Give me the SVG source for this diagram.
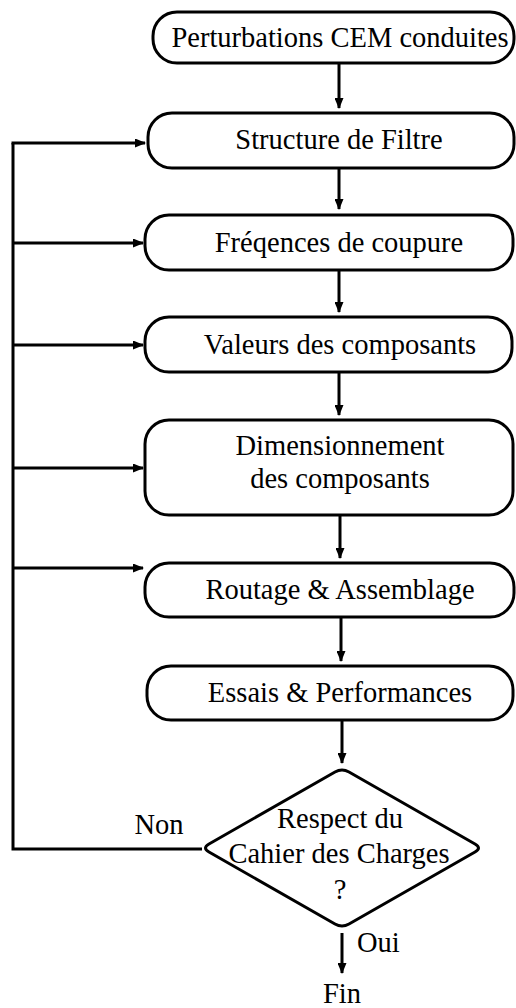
<svg xmlns="http://www.w3.org/2000/svg" width="516" height="1008" viewBox="0 0 516 1008">
<style>
.box{fill:#fff;stroke:#000;stroke-width:3}
.t{font-family:'Liberation Serif','Times New Roman',serif;font-size:28.5px;fill:#000;text-anchor:middle}
.c{fill:none;stroke:#000;stroke-width:3}
</style>
<defs>
<marker id="ah" markerUnits="userSpaceOnUse" markerWidth="11" markerHeight="9" refX="10" refY="4.5" orient="auto">
<path d="M0,0 L11,4.5 L0,9 z" fill="#000"/>
</marker>
</defs>
<rect width="516" height="1008" fill="#fff"/>
<g id="connectors">
<line class="c" x1="339" y1="63" x2="339" y2="108" marker-end="url(#ah)"/>
<line class="c" x1="339" y1="168" x2="339" y2="209" marker-end="url(#ah)"/>
<line class="c" x1="339" y1="270" x2="339" y2="312" marker-end="url(#ah)"/>
<line class="c" x1="339" y1="372" x2="339" y2="415" marker-end="url(#ah)"/>
<line class="c" x1="340" y1="515" x2="340" y2="558" marker-end="url(#ah)"/>
<line class="c" x1="341" y1="617" x2="341" y2="661" marker-end="url(#ah)"/>
<line class="c" x1="342" y1="720" x2="342" y2="763" marker-end="url(#ah)"/>
<line class="c" x1="342" y1="933" x2="342" y2="973" marker-end="url(#ah)"/>
<polyline class="c" points="202,849 13,849 13,143"/>
<line class="c" x1="11.5" y1="143" x2="145" y2="143" marker-end="url(#ah)"/>
<line class="c" x1="13" y1="243" x2="143" y2="243" marker-end="url(#ah)"/>
<line class="c" x1="13" y1="345" x2="143" y2="345" marker-end="url(#ah)"/>
<line class="c" x1="13" y1="468" x2="143" y2="468" marker-end="url(#ah)"/>
<line class="c" x1="13" y1="568" x2="143" y2="568" marker-end="url(#ah)"/>
<text class="t" x="159" y="834">Non</text>
<text class="t" x="357" y="952" style="text-anchor:start">Oui</text>
</g>
<g id="n1"><rect class="box" x="153" y="12" width="361" height="51" rx="24"/><text class="t" x="340" y="47">Perturbations CEM conduites</text></g>
<g id="n2"><rect class="box" x="148" y="113" width="366" height="55" rx="24"/><text class="t" x="339" y="149">Structure de Filtre</text></g>
<g id="n3"><rect class="box" x="145" y="215" width="368" height="55" rx="24"/><text class="t" x="339" y="252">Fréqences de coupure</text></g>
<g id="n4"><rect class="box" x="145" y="317" width="367" height="55" rx="24"/><text class="t" x="340" y="354">Valeurs des composants</text></g>
<g id="n5"><rect class="box" x="145" y="420" width="368" height="95" rx="24"/><text class="t" x="340" y="455">Dimensionnement</text><text class="t" x="340" y="488">des composants</text></g>
<g id="n6"><rect class="box" x="145" y="563" width="369" height="54" rx="24"/><text class="t" x="340" y="599">Routage &amp; Assemblage</text></g>
<g id="n7"><rect class="box" x="147" y="666" width="366" height="54" rx="24"/><text class="t" x="340" y="702">Essais &amp; Performances</text></g>
<g id="n8"><path class="box" stroke-linejoin="round" d="M335,772 Q342,768 349,772 L475,844 Q482,848 475,852 L349,924 Q342,928 335,924 L209,852 Q202,848 209,844 Z"/>
<text class="t" x="340" y="828">Respect du</text><text class="t" x="339" y="863">Cahier des Charges</text><text class="t" x="340" y="899">?</text></g>
<g id="n9"><text class="t" x="342" y="1003">Fin</text></g>
</svg>
